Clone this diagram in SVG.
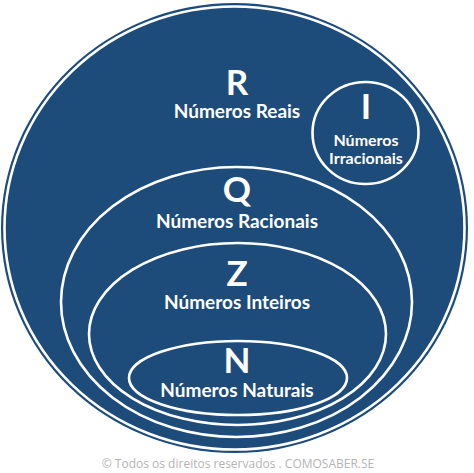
<svg xmlns="http://www.w3.org/2000/svg" width="474" height="473" viewBox="0 0 474 473">
<style>
.ring{fill:none;stroke:#fff;stroke-width:2.6}
.big{font-family:Lato,"Open Sans",sans-serif;font-weight:bold;fill:#fff;text-anchor:middle;font-size:35px}
.lbl{font-family:Lato,"Open Sans",sans-serif;font-weight:bold;fill:#fff;text-anchor:middle;font-size:19px}
.sm{font-family:Lato,"Open Sans",sans-serif;font-weight:bold;fill:#fff;text-anchor:middle;font-size:16px}
.copy{font-family:"Open Sans","Liberation Sans",sans-serif;fill:#b4b4b4;text-anchor:middle;font-size:12px}
</style>
<rect width="474" height="473" fill="#fff"/>
<g id="R">
<ellipse cx="234.5" cy="228" rx="233.5" ry="225" fill="#1d4b7a"/>
<ellipse class="ring" cx="234.5" cy="228" rx="230" ry="221.5"/>
<text class="big" x="237" y="95">R</text>
<text class="lbl" x="237" y="118">Números Reais</text>
</g>
<g id="I">
<ellipse class="ring" cx="365.5" cy="133" rx="53" ry="51"/>
<text class="big" x="366" y="119">I</text>
<text class="sm" x="366" y="146">Números</text>
<text class="sm" x="366" y="164">Irracionais</text>
</g>
<g id="Q">
<ellipse class="ring" cx="236.5" cy="302" rx="175.5" ry="135"/>
<text class="big" x="237" y="202">Q</text>
<text class="lbl" x="237" y="228">Números Racionais</text>
</g>
<g id="Z">
<ellipse class="ring" cx="237.5" cy="334" rx="148.5" ry="91"/>
<text class="big" x="237" y="286">Z</text>
<text class="lbl" x="237" y="309">Números Inteiros</text>
</g>
<g id="N">
<ellipse class="ring" cx="238" cy="378" rx="109" ry="37"/>
<text class="big" x="237" y="373">N</text>
<text class="lbl" x="237" y="397">Números Naturais</text>
</g>
<g id="connectors"></g>
<text class="copy" x="238" y="468">© Todos os direitos reservados . COMOSABER.SE</text>
</svg>
